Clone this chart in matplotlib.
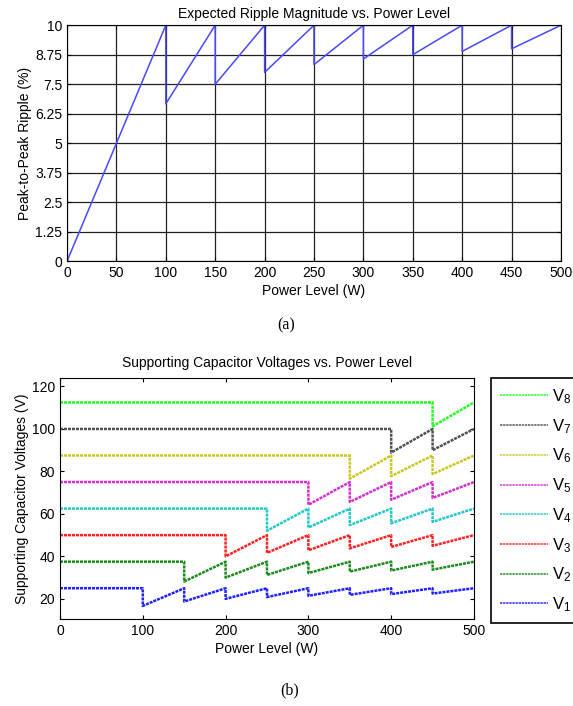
import matplotlib
matplotlib.use("Agg")
import matplotlib.pyplot as plt

plt.rcParams["font.family"] = ["Liberation Sans", "DejaVu Sans"]
plt.rcParams["mathtext.fontset"] = "custom"
plt.rcParams["mathtext.rm"] = "Liberation Sans"
plt.rcParams["mathtext.it"] = "Liberation Sans"

# (a) ripple breakpoints
ripple_power = [0, 100, 100, 150, 150, 200, 200, 250, 250, 300, 300, 350, 350, 400, 400, 450, 450, 500]
ripple_pct = [0, 10, 6.67, 10, 7.5, 10, 8.0, 10, 8.33, 10, 8.57, 10, 8.75, 10, 8.89, 10, 9.0, 10]
ripple_yticks = [0, 1.25, 2.5, 3.75, 5, 6.25, 7.5, 8.75, 10]
ripple_yticklabels = ["0", "1.25", "2.5", "3.75", "5", "6.25", "7.5", "8.75", "10"]

# (b) capacitor voltages: flat level, first drop point, values right after each drop
step_power = [100, 150, 200, 250, 300, 350, 400, 450]
v_flat = [25, 37.5, 50, 62.5, 75, 87.5, 100, 112.5]
v_first_drop = [100, 150, 200, 250, 300, 350, 400, 450]
v1_low = [16.67, 18.75, 20.0, 20.83, 21.43, 21.88, 22.22, 22.5]
v2_low = [28.13, 30.0, 31.25, 32.14, 32.81, 33.33, 33.75]
v3_low = [40.0, 41.67, 42.86, 43.75, 44.44, 45.0]
v4_low = [52.08, 53.57, 54.69, 55.56, 56.25]
v5_low = [64.29, 65.63, 66.67, 67.5]
v6_low = [76.56, 77.78, 78.75]
v7_low = [88.89, 90.0]
v8_low = [101.25]
v_lows = [v1_low, v2_low, v3_low, v4_low, v5_low, v6_low, v7_low, v8_low]
v_colors = ["#2020ff", "#1a8a1a", "#ff2020", "#20c8c8", "#d030d0", "#c8c820", "#505050", "#20ff20"]
v_labels = ["V$_{1}$", "V$_{2}$", "V$_{3}$", "V$_{4}$", "V$_{5}$", "V$_{6}$", "V$_{7}$", "V$_{8}$"]

fig = plt.figure(figsize=(5.73, 7.06), dpi=100)

# ---- (a)
ax1 = fig.add_axes([0.117, 0.630, 0.862, 0.3343])
ax1.plot(ripple_power, ripple_pct, color="#4848ff", linewidth=1.1)
ax1.set_xlim(0, 500)
ax1.set_ylim(0, 10)
ax1.set_xticks(range(0, 501, 50))
ax1.set_yticks(ripple_yticks)
ax1.set_yticklabels(ripple_yticklabels)
ax1.grid(True, color="#222222", linewidth=0.9)
ax1.tick_params(direction="in", top=True, right=True, labelsize=10, length=3)
ax1.set_xlabel("Power Level (W)", fontsize=10, labelpad=3)
ax1.set_ylabel("Peak-to-Peak Ripple (%)", fontsize=10, labelpad=2)
ax1.set_title("Expected Ripple Magnitude vs. Power Level", fontsize=10, pad=5)
fig.text(0.499, 0.5397, "(a)", family=["Liberation Serif"], fontsize=11.5, ha="center", va="center")

# ---- (b)
ax2 = fig.add_axes([0.1047, 0.1232, 0.7225, 0.3414])
handles = []
for flat, first, lows, col, lab in zip(v_flat, v_first_drop, v_lows, v_colors, v_labels):
    xs = [0]
    ys = [flat]
    drops = [p for p in step_power if p >= first]
    for p, low in zip(drops, lows):
        xs += [p, p]
        ys += [flat, low]
    xs.append(500)
    ys.append(flat)
    line, = ax2.plot(xs, ys, color=col, linewidth=1.8, linestyle=(0, (1.2, 0.4)))
    handles.append((line, lab))

ax2.set_xlim(0, 500)
ax2.set_ylim(10.5, 124)
ax2.set_xticks(range(0, 501, 100))
ax2.set_yticks(range(20, 121, 20))
ax2.tick_params(direction="in", top=True, right=True, labelsize=10, length=3)
ax2.set_xlabel("Power Level (W)", fontsize=10, labelpad=3)
ax2.set_ylabel("Supporting Capacitor Voltages (V)", fontsize=10, labelpad=2)
ax2.set_title("Supporting Capacitor Voltages vs. Power Level", fontsize=10, pad=8)

leg = fig.legend([h[0] for h in handles[::-1]], [h[1] for h in handles[::-1]],
                 loc="upper left", bbox_to_anchor=(0.857, 0.1232, 0.16, 0.3414),
                 mode="expand", fontsize=12, handlelength=2.85, labelspacing=0.66,
                 borderaxespad=0, fancybox=False, edgecolor="black", framealpha=1,
                 borderpad=0.56, handletextpad=0.22)
leg.get_frame().set_linewidth(1.2)
for lh in leg.get_lines():
    lh.set_linewidth(1.4)
    lh.set_alpha(0.75)

fig.text(0.505, 0.0227, "(b)", family=["Liberation Serif"], fontsize=11.5, ha="center", va="center")

fig.savefig("out.png", dpi=100)
